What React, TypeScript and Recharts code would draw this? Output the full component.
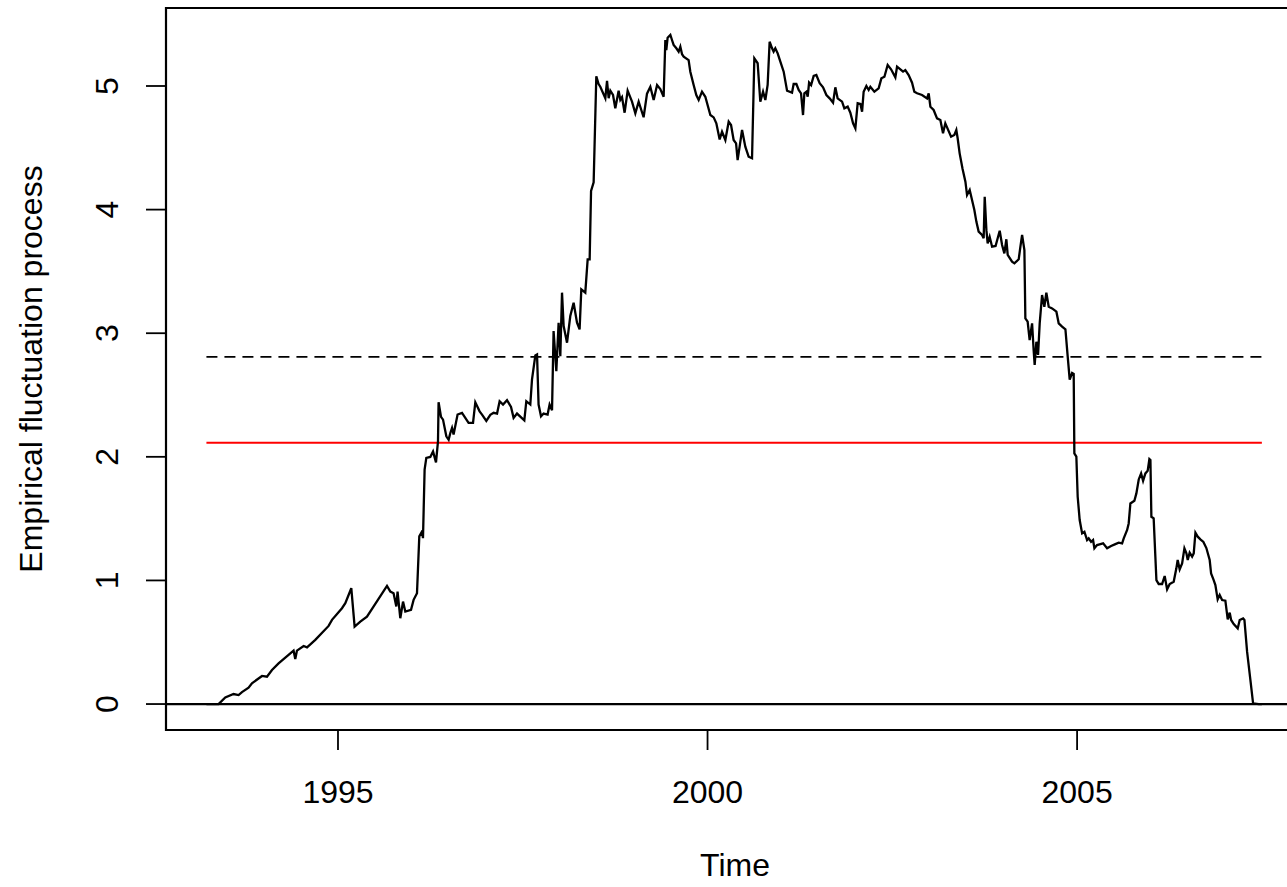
import { LineChart, Line, XAxis, YAxis, ReferenceLine, ReferenceArea } from 'recharts';

const series: [number, number][] = [
  [1993.22, 0], [1993.384, 0], [1993.475, 0.054], [1993.587, 0.081], [1993.655, 0.073],
  [1993.701, 0.097], [1993.79, 0.133], [1993.836, 0.168], [1993.972, 0.227], [1994.039, 0.221],
  [1994.107, 0.275], [1994.196, 0.329], [1994.399, 0.432], [1994.422, 0.364], [1994.445, 0.432],
  [1994.535, 0.47], [1994.581, 0.459], [1994.693, 0.519], [1994.873, 0.632], [1994.919, 0.681],
  [1995.054, 0.775], [1995.099, 0.816], [1995.18, 0.937], [1995.225, 0.626], [1995.302, 0.667],
  [1995.392, 0.707], [1995.663, 0.956], [1995.708, 0.91], [1995.752, 0.897], [1995.789, 0.789],
  [1995.806, 0.91], [1995.843, 0.694], [1995.88, 0.829], [1995.911, 0.748], [1995.988, 0.762],
  [1996.023, 0.843], [1996.069, 0.897], [1996.1, 1.356], [1996.137, 1.396], [1996.15, 1.342],
  [1996.172, 1.896], [1996.195, 1.991], [1996.249, 1.999], [1996.286, 2.044], [1996.326, 1.955],
  [1996.353, 2.125], [1996.361, 2.441], [1996.394, 2.323], [1996.421, 2.301], [1996.466, 2.166],
  [1996.497, 2.139], [1996.52, 2.193], [1996.543, 2.234], [1996.564, 2.18], [1996.618, 2.342],
  [1996.678, 2.356], [1996.767, 2.275], [1996.827, 2.275], [1996.858, 2.441], [1996.916, 2.368],
  [1996.949, 2.342], [1997.007, 2.29], [1997.061, 2.34], [1997.106, 2.356], [1997.152, 2.35],
  [1997.187, 2.45], [1997.233, 2.423], [1997.287, 2.458], [1997.341, 2.404], [1997.376, 2.315],
  [1997.422, 2.35], [1997.521, 2.295], [1997.548, 2.45], [1997.602, 2.423], [1997.625, 2.626],
  [1997.67, 2.82], [1997.693, 2.828], [1997.714, 2.423], [1997.747, 2.328], [1997.782, 2.35],
  [1997.836, 2.342], [1997.863, 2.423], [1997.896, 2.377], [1997.917, 3.017], [1997.954, 2.693],
  [1997.985, 3.085], [1998.008, 2.814], [1998.031, 3.328], [1998.053, 3.058], [1998.099, 2.923],
  [1998.143, 3.139], [1998.188, 3.247], [1998.234, 3.085], [1998.269, 3.031], [1998.292, 3.355],
  [1998.346, 3.328], [1998.378, 3.598], [1998.405, 3.598], [1998.424, 4.152], [1998.459, 4.22],
  [1998.495, 5.078], [1998.526, 5.016], [1998.549, 4.994], [1998.617, 4.901], [1998.64, 5.042],
  [1998.662, 4.901], [1998.685, 4.962], [1998.721, 4.927], [1998.752, 4.82], [1998.797, 4.962],
  [1998.82, 4.887], [1998.843, 4.909], [1998.878, 4.784], [1998.919, 4.962], [1998.978, 4.873],
  [1999.023, 4.779], [1999.068, 4.873], [1999.135, 4.747], [1999.181, 4.938], [1999.226, 4.994],
  [1999.271, 4.887], [1999.317, 5.008], [1999.361, 4.975], [1999.406, 4.913], [1999.429, 5.372],
  [1999.442, 5.291], [1999.46, 5.391], [1999.497, 5.413], [1999.519, 5.372], [1999.541, 5.332],
  [1999.578, 5.305], [1999.609, 5.278], [1999.632, 5.318], [1999.655, 5.257], [1999.677, 5.238],
  [1999.744, 5.21], [1999.767, 5.116], [1999.812, 5.008], [1999.848, 4.927], [1999.88, 4.887],
  [1999.925, 4.954], [1999.97, 4.913], [2000.038, 4.765], [2000.083, 4.746], [2000.119, 4.698],
  [2000.164, 4.568], [2000.196, 4.63], [2000.241, 4.563], [2000.286, 4.711], [2000.318, 4.684],
  [2000.353, 4.563], [2000.386, 4.536], [2000.407, 4.401], [2000.434, 4.509], [2000.467, 4.644],
  [2000.511, 4.509], [2000.556, 4.428], [2000.602, 4.415], [2000.633, 5.224], [2000.678, 5.184],
  [2000.714, 4.873], [2000.751, 4.954], [2000.782, 4.887], [2000.813, 5.008], [2000.84, 5.358],
  [2000.873, 5.305], [2000.894, 5.278], [2000.917, 5.305], [2000.949, 5.264], [2000.985, 5.197],
  [2001.03, 5.116], [2001.076, 4.962], [2001.143, 4.946], [2001.165, 5.016], [2001.202, 5.016],
  [2001.233, 4.968], [2001.265, 4.941], [2001.292, 4.765], [2001.31, 4.941], [2001.337, 4.954],
  [2001.355, 4.914], [2001.374, 5.027], [2001.401, 5.008], [2001.436, 5.081], [2001.472, 5.089],
  [2001.517, 5.022], [2001.563, 4.989], [2001.608, 4.927], [2001.652, 4.9], [2001.698, 4.865],
  [2001.729, 4.989], [2001.76, 4.9], [2001.82, 4.873], [2001.851, 4.819], [2001.896, 4.833],
  [2001.932, 4.784], [2001.969, 4.698], [2002.0, 4.657], [2002.031, 4.86], [2002.068, 4.854],
  [2002.091, 4.792], [2002.112, 4.954], [2002.149, 5.0], [2002.18, 4.968], [2002.203, 4.994],
  [2002.257, 4.954], [2002.315, 4.981], [2002.352, 5.062], [2002.393, 5.075], [2002.437, 5.17],
  [2002.483, 5.135], [2002.541, 5.07], [2002.564, 5.156], [2002.609, 5.135], [2002.645, 5.116],
  [2002.676, 5.129], [2002.721, 5.089], [2002.767, 5.027], [2002.798, 4.954], [2002.835, 4.941],
  [2002.902, 4.927], [2002.97, 4.9], [2002.992, 4.941], [2003.015, 4.832], [2003.059, 4.806],
  [2003.105, 4.738], [2003.15, 4.725], [2003.186, 4.617], [2003.217, 4.698], [2003.295, 4.59],
  [2003.339, 4.604], [2003.366, 4.644], [2003.384, 4.577], [2003.411, 4.455], [2003.45, 4.33],
  [2003.489, 4.226], [2003.511, 4.118], [2003.547, 4.159], [2003.61, 3.997], [2003.637, 3.903],
  [2003.668, 3.822], [2003.714, 3.795], [2003.736, 3.768], [2003.75, 4.104], [2003.773, 3.834],
  [2003.79, 3.726], [2003.817, 3.78], [2003.85, 3.7], [2003.897, 3.706], [2003.953, 3.829],
  [2003.985, 3.714], [2004.016, 3.646], [2004.043, 3.76], [2004.061, 3.633], [2004.12, 3.579],
  [2004.152, 3.565], [2004.21, 3.598], [2004.233, 3.7], [2004.256, 3.795], [2004.287, 3.673],
  [2004.3, 3.12], [2004.331, 3.093], [2004.358, 2.945], [2004.391, 3.08], [2004.412, 2.864],
  [2004.426, 2.743], [2004.449, 2.931], [2004.472, 2.824], [2004.494, 3.08], [2004.526, 3.309],
  [2004.557, 3.214], [2004.584, 3.328], [2004.616, 3.214], [2004.662, 3.201], [2004.72, 3.174],
  [2004.751, 3.08], [2004.797, 3.053], [2004.842, 3.032], [2004.873, 2.81], [2004.9, 2.624],
  [2004.932, 2.678], [2004.954, 2.67], [2004.963, 2.028], [2004.99, 2.001], [2005.008, 1.677],
  [2005.035, 1.489], [2005.068, 1.381], [2005.099, 1.394], [2005.135, 1.326], [2005.157, 1.34],
  [2005.189, 1.313], [2005.216, 1.327], [2005.234, 1.26], [2005.27, 1.286], [2005.315, 1.294],
  [2005.352, 1.3], [2005.406, 1.26], [2005.46, 1.278], [2005.518, 1.294], [2005.563, 1.305],
  [2005.609, 1.3], [2005.631, 1.34], [2005.677, 1.408], [2005.698, 1.461], [2005.721, 1.623],
  [2005.775, 1.644], [2005.802, 1.704], [2005.834, 1.817], [2005.866, 1.866], [2005.893, 1.806],
  [2005.924, 1.866], [2005.955, 1.887], [2005.978, 1.982], [2005.992, 1.974], [2006.005, 1.515],
  [2006.036, 1.502], [2006.059, 1.192], [2006.073, 1.003], [2006.104, 0.971], [2006.15, 0.971],
  [2006.185, 1.036], [2006.218, 0.928], [2006.253, 0.971], [2006.307, 0.99], [2006.343, 1.098],
  [2006.361, 1.165], [2006.388, 1.09], [2006.421, 1.138], [2006.452, 1.26], [2006.479, 1.219],
  [2006.497, 1.165], [2006.523, 1.224], [2006.556, 1.192], [2006.578, 1.219], [2006.601, 1.386],
  [2006.632, 1.354], [2006.668, 1.332], [2006.709, 1.311], [2006.749, 1.262], [2006.794, 1.165],
  [2006.813, 1.057], [2006.848, 1.003], [2006.871, 0.963], [2006.902, 0.847], [2006.929, 0.882],
  [2006.962, 0.841], [2007.006, 0.836], [2007.038, 0.685], [2007.065, 0.739], [2007.084, 0.68],
  [2007.119, 0.647], [2007.173, 0.612], [2007.2, 0.68], [2007.246, 0.693], [2007.264, 0.68],
  [2007.3, 0.424], [2007.345, 0.194], [2007.381, 0.006], [2007.457, 0], [2007.5, 0],
];

const xTicks = [1995, 2000, 2005];
const yTicks = [0, 1, 2, 3, 4, 5];
const boundaryDashed = 2.808;
const boundaryRed = 2.114;
const xDomain: [number, number] = [1992.673, 2008.07];
const yDomain: [number, number] = [-0.21, 5.631];

const data = series.map(([time, value]) => ({ time, value }));
const tStart = series[0][0];
const tEnd = series[series.length - 1][0];

const font = '"Liberation Sans", Arial, Helvetica, sans-serif';
const fs = 32;

function XTick(props: any) {
  const { x, payload } = props;
  return (
    <text x={x} y={803} textAnchor="middle" fontSize={fs} fontFamily={font} fill="#000">
      {payload.value}
    </text>
  );
}

function YTick(props: any) {
  const { y, payload } = props;
  return (
    <text
      x={118}
      y={y}
      transform={`rotate(-90, 118, ${y})`}
      textAnchor="middle"
      fontSize={fs}
      fontFamily={font}
      fill="#000"
    >
      {payload.value}
    </text>
  );
}

function XTitle() {
  return (
    <text x={735} y={876} textAnchor="middle" fontSize={fs} fontFamily={font} fill="#000">
      Time
    </text>
  );
}

function YTitle() {
  return (
    <text
      x={42}
      y={369}
      transform="rotate(-90, 42, 369)"
      textAnchor="middle"
      fontSize={fs}
      fontFamily={font}
      fill="#000"
    >
      Empirical fluctuation process
    </text>
  );
}

export default function App() {
  return (
    <div
      style={{
        position: 'absolute',
        left: 0,
        top: 0,
        width: 1287,
        height: 887,
        overflow: 'hidden',
        background: '#fff',
      }}
    >
      <LineChart width={1320} height={887} data={data} margin={{ top: 8, right: 16, bottom: 0, left: 0 }}>
        <XAxis
          dataKey="time"
          type="number"
          domain={xDomain}
          ticks={xTicks}
          allowDataOverflow
          axisLine={false}
          tickLine={{ stroke: '#000', strokeWidth: 1.8 }}
          tickSize={20}
          tick={<XTick />}
          height={157}
          label={<XTitle />}
        />
        <YAxis
          type="number"
          domain={yDomain}
          ticks={yTicks}
          allowDataOverflow
          axisLine={false}
          tickLine={{ stroke: '#000', strokeWidth: 1.8 }}
          tickSize={20}
          tick={<YTick />}
          width={166}
          label={<YTitle />}
        />
        <ReferenceArea
          x1={xDomain[0]}
          x2={xDomain[1]}
          y1={yDomain[0]}
          y2={yDomain[1]}
          fill="none"
          fillOpacity={0}
          stroke="#000"
          strokeWidth={2.2}
          ifOverflow="visible"
        />
        <ReferenceLine y={0} stroke="#000" strokeWidth={2.2} />
        <ReferenceLine
          segment={[{ x: tStart, y: boundaryDashed }, { x: tEnd, y: boundaryDashed }]}
          stroke="#000"
          strokeWidth={1.8}
          strokeDasharray="11 7"
        />
        <ReferenceLine
          segment={[{ x: tStart, y: boundaryRed }, { x: tEnd, y: boundaryRed }]}
          stroke="#ff0000"
          strokeWidth={1.8}
        />
        <Line
          type="linear"
          dataKey="value"
          stroke="#000"
          strokeWidth={2.3}
          dot={false}
          activeDot={false}
          isAnimationActive={false}
        />
      </LineChart>
    </div>
  );
}
